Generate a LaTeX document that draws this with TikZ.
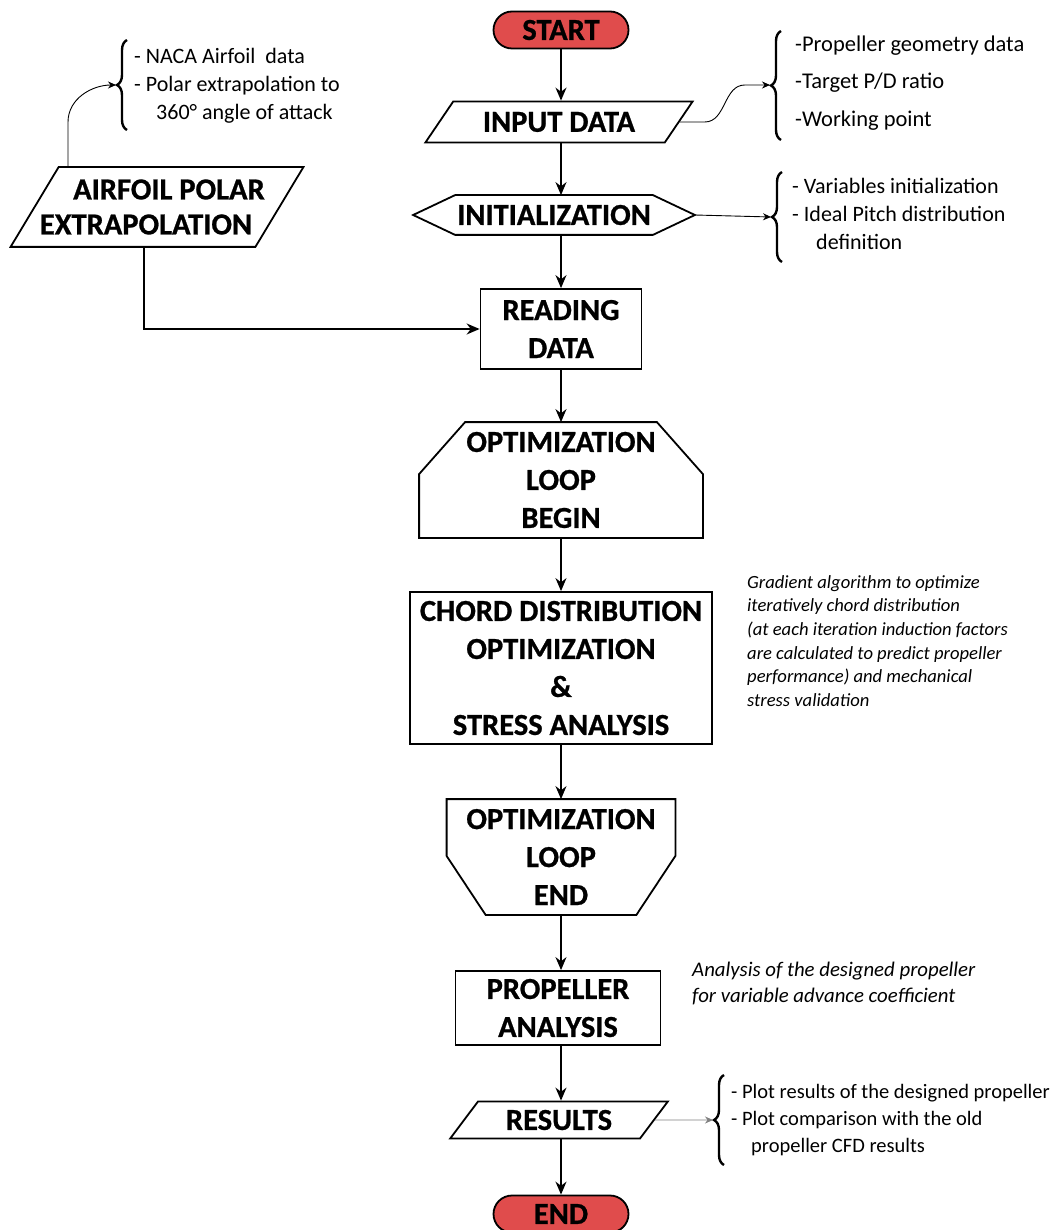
\documentclass[tikz,border=0pt]{standalone}
\usepackage{fontspec}
\setmainfont{Carlito}[BoldFeatures={FakeBold=0.8}]
\usetikzlibrary{arrows.meta,positioning,shapes.geometric,shapes.misc,decorations.pathreplacing,calc}
\definecolor{termred}{RGB}{224,76,76}

\begin{document}
\begin{tikzpicture}[x=1pt, y=-1pt, every node/.style={inner sep=0pt}]
\tikzset{
  box/.style={draw, line width=1.8pt, align=center, font=\fontsize{30.5}{38}\selectfont\bfseries},
  bare/.style={box, draw=none},
  outline/.style={line width=1.8pt, line join=miter},
  term/.style={box, rounded rectangle, fill=termred, minimum width=135, minimum height=37},
  io/.style={box, trapezium, trapezium stretches=true},
  flow/.style={line width=1.6pt, -{Stealth[length=13pt,width=11pt]}},
  thin/.style={line width=0.9pt, -{Stealth[length=8pt,width=7pt]}},
  note/.style={align=left, anchor=west, font=\fontsize{22}{28}\selectfont},
  curly/.style={decorate, decoration={brace, amplitude=10pt}, line width=2.4pt}
}
\useasboundingbox (0,0) rectangle (1061,1230);

% main column
\node[term] (start) at (561,30) {START};
\node[io, trapezium left angle=45, trapezium right angle=135, minimum width=268, minimum height=41] (input) at (559,122) {INPUT DATA};
\node[bare, minimum width=280, minimum height=38] (init) at (554,215) {INITIALIZATION};
\draw[outline] (init.west) -- ([xshift=42pt]init.north west) -- ([xshift=-42pt]init.north east) -- (init.east) -- ([xshift=-42pt]init.south east) -- ([xshift=42pt]init.south west) -- cycle;
\node[box, minimum width=161, minimum height=80] (reading) at (561,329) {READING\\DATA};
\node[bare, minimum width=282, minimum height=114] (optb) at (561,480) {OPTIMIZATION\\LOOP\\BEGIN};
\draw[outline] (optb.south west) -- ([yshift=-52pt]optb.north west) -- ([xshift=46pt]optb.north west) -- ([xshift=-46pt]optb.north east) -- ([yshift=-52pt]optb.north east) -- (optb.south east) -- cycle;
\node[box, minimum width=302, minimum height=152] (chord) at (561,668) {CHORD DISTRIBUTION\\OPTIMIZATION\\\&\\STRESS ANALYSIS};
\node[bare, minimum width=227, minimum height=114] (opte) at (561,857) {OPTIMIZATION\\LOOP\\END};
\draw[outline] (opte.north west) -- (opte.north east) -- ([yshift=59pt]opte.south east) -- ([xshift=-39pt]opte.south east) -- ([xshift=39pt]opte.south west) -- ([yshift=59pt]opte.south west) -- cycle;
\node[box, minimum width=205, minimum height=74] (prop) at (558,1008) {PROPELLER\\ANALYSIS};
\node[io, trapezium left angle=48, trapezium right angle=132, minimum width=218, minimum height=37] (results) at (559,1120) {RESULTS};
\node[term] (end) at (561,1214) {END};

% side input
\node[bare, minimum width=291, minimum height=78, font=\fontsize{30.5}{35}\selectfont\bfseries] (airfoil) at (157,207) {\hspace*{24pt}AIRFOIL POLAR\\EXTRAPOLATION\hspace*{22pt}};
\draw[outline] (airfoil.south west) -- ([xshift=48pt]airfoil.north west) -- (airfoil.north east) -- ([xshift=-48pt]airfoil.south east) -- cycle;

% notes
\node[note] (naca) at (134,86) {- NACA Airfoil\ \ data\\- Polar extrapolation to\\\hspace*{22pt}360° angle of attack};
\node[note, font=\fontsize{22.5}{37.5}\selectfont] (geom) at (795,83) {-Propeller geometry data\\-Target P/D ratio\\-Working point};
\node[note] (vars) at (792,214) {- Variables initialization\\- Ideal Pitch distribution\\\hspace*{24pt}definition};
\node[note, font=\itshape\fontsize{18.6}{23.6}\selectfont] (grad) at (747,641) {Gradient algorithm to optimize\\iteratively chord distribution\\(at each iteration induction factors\\are calculated to predict propeller\\performance) and mechanical\\stress validation};
\node[note, font=\itshape\fontsize{20.8}{26}\selectfont] (anal) at (692,983) {Analysis of the designed propeller\\for variable advance coefficient};
\node[note, font=\fontsize{20.5}{27}\selectfont] (plot) at (731,1120) {- Plot results of the designed propeller\\- Plot comparison with the old\\\hspace*{20pt}propeller CFD results};

% braces
\draw[curly] (127,130) -- (127,40);
\draw[curly] (781,140) -- (781,31);
\draw[curly] (782,262) -- (782,172);
\draw[curly] (724,1165) -- (724,1075);
\coordinate (tip0) at (116,85);
\coordinate (tip1) at (770,85);
\coordinate (tip2) at (771,217);
\coordinate (tip3) at (713,1120);

% connectors
\draw[flow] (start.south) -- (start.south |- input.north);
\draw[flow] (start.south |- input.south) -- (start.south |- init.north);
\draw[flow] (start.south |- init.south) -- (reading.north);
\draw[flow] (reading.south) -- (optb.north);
\draw[flow] (optb.south) -- (chord.north);
\draw[flow] (chord.south) -- (opte.north);
\draw[flow] (opte.south) -- (opte.south |- prop.north);
\draw[flow] (opte.south |- prop.south) -- (opte.south |- results.north);
\draw[flow] (opte.south |- results.south) -- (end.north);
\draw[flow] ([xshift=-13pt]airfoil.south) |- (reading.west);
\draw[thin] ([xshift=-89pt]airfoil.north) -- ++(0,-45) to[out=90,in=180] (tip0);
\draw[thin] (input.east) -- ++(25,0) to[out=0,in=180] ++(40,-37) -- (tip1);
\draw[thin] (init.east) -- (tip2);
\draw[thin, draw=gray] (results.east) -- (tip3);
\end{tikzpicture}
\end{document}
